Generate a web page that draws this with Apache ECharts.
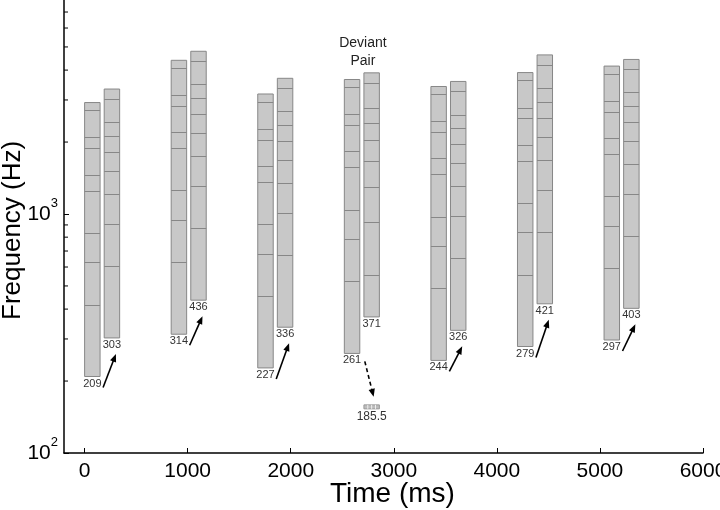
<!DOCTYPE html>
<html><head><meta charset="utf-8">
<script src="https://cdn.jsdelivr.net/npm/echarts@6/dist/echarts.min.js"></script>
<style>html,body{margin:0;padding:0;background:#fff}#c{width:720px;height:510px}</style>
</head><body><div id="c"></div>
<script>
// ---------------- data ----------------
const pairOnsets = [0, 840, 1680, 2520, 3360, 4200, 5040];   // ms
const toneDuration = 150;                                     // ms
const targetDelay = 190;                                      // ms after pair onset
const standardF0 = [209, 314, 227, 261, 244, 279, 297];       // Hz
const targetF0 = [303, 436, 336, 371, 326, 421, 403];         // Hz
const standardHarmonics = [1, 2, 3, 4, 6, 7, 9, 10, 13, 14];
const targetHarmonics = [1, 2, 3, 4, 5, 6, 7, 8, 10, 11];
const deviantPairIndex = 3;
const deviantMissingF0 = 185.5;                               // Hz
const deviantHarmonics = [2, 3, 5, 7, 9, 11, 13, 15, 19, 21];
const deviantMarkerBand = [153, 159];                         // Hz, symbol of missing F0
const xTickValues = [0, 1000, 2000, 3000, 4000, 5000, 6000];
const yMinorTickValues = [200, 300, 400, 500, 600, 700, 800, 900,
                          2000, 3000, 4000, 5000, 6000, 7000, 8000, 9000];
const xRange = [-200, 6000];
const yRange = [100, 10000];

// ---------------- build tones ----------------
const tones = [];
pairOnsets.forEach((t, i) => {
  tones.push({ x0: t, x1: t + toneDuration, label: String(standardF0[i]),
    comps: standardHarmonics.map(h => h * standardF0[i]) });
  const dev = i === deviantPairIndex;
  tones.push({ x0: t + targetDelay, x1: t + targetDelay + toneDuration, label: String(targetF0[i]),
    comps: dev ? deviantHarmonics.map(h => h * deviantMissingF0)
               : targetHarmonics.map(h => h * targetF0[i]) });
});

const SANS = '"Liberation Sans", Arial, sans-serif';
const BAR_FILL = '#c8c8c8', BAR_EDGE = '#878787';

function renderTone(params, api) {
  const t = tones[params.dataIndex];
  const top = api.coord([t.x0, t.comps[t.comps.length - 1]]);
  const bot = api.coord([t.x1, t.comps[0]]);
  const ch = [{ type: 'rect', shape: { x: top[0], y: top[1], width: bot[0] - top[0], height: bot[1] - top[1] },
    style: { fill: BAR_FILL, stroke: BAR_EDGE, lineWidth: 1 } }];
  for (let k = 1; k < t.comps.length - 1; k++) {
    const y = Math.round(api.coord([t.x0, t.comps[k]])[1]) + 0.5;
    ch.push({ type: 'line', shape: { x1: top[0], y1: y, x2: bot[0], y2: y }, style: { stroke: BAR_EDGE, lineWidth: 1 } });
  }
  ch.push({ type: 'text', style: { text: t.label, x: (top[0] + bot[0]) / 2, y: bot[1] + 1.5, align: 'center',
    verticalAlign: 'top', fontSize: 11, fontFamily: SANS, fill: '#333' } });
  if (params.dataIndex === deviantPairIndex * 2 + 1) {
    ch.push({ type: 'text', style: { text: 'Deviant\nPair', x: top[0] - 1, y: top[1] - 3, align: 'center',
      verticalAlign: 'bottom', fontSize: 14, lineHeight: 18, fontFamily: SANS, fill: '#222' } });
  }
  return { type: 'group', children: ch };
}

function arrowHead(tail, tip, size, w) {
  const dx = tip[0] - tail[0], dy = tip[1] - tail[1], L = Math.hypot(dx, dy);
  const ux = dx / L, uy = dy / L;
  const bx = tip[0] - ux * size, by = tip[1] - uy * size;
  return [[tip[0], tip[1]], [bx - uy * w, by + ux * w], [bx + uy * w, by - ux * w]];
}

function renderArrow(params, api) {
  const i = params.dataIndex;
  const s = tones[2 * i], g = tones[2 * i + 1];
  const sBot = api.coord([s.x1, s.comps[0]]);
  const ch = [];
  let tail, tip, dashed = false;
  if (i === deviantPairIndex) {
    const mTop = api.coord([g.x0, deviantMarkerBand[1]]);
    const mR = api.coord([g.x1, deviantMarkerBand[1]]);
    tail = [sBot[0] + 5, sBot[1] + 8];
    tip = [(mTop[0] + mR[0]) / 2 + 2, mTop[1] - 8];
    dashed = true;
  } else {
    const gBotL = api.coord([g.x0, g.comps[0]]);
    const gBotR = api.coord([g.x1, g.comps[0]]);
    tail = [sBot[0] + 3, sBot[1] + 11];
    tip = [(gBotL[0] + gBotR[0]) / 2 + 4, gBotL[1] + 16];
  }
  const head = arrowHead(tail, tip, 8, 3.2);
  const dx = tip[0] - tail[0], dy = tip[1] - tail[1], L = Math.hypot(dx, dy);
  const end = [tip[0] - dx / L * 7, tip[1] - dy / L * 7];
  ch.push({ type: 'line', shape: { x1: tail[0], y1: tail[1], x2: end[0], y2: end[1] },
    style: { stroke: '#000', lineWidth: 1.6, lineDash: dashed ? [4, 3] : null } });
  ch.push({ type: 'polygon', shape: { points: head }, style: { fill: '#000' } });
  return { type: 'group', children: ch };
}

function renderMarker(params, api) {
  const g = tones[deviantPairIndex * 2 + 1];
  const a = api.coord([g.x0, deviantMarkerBand[1]]);
  const b = api.coord([g.x1, deviantMarkerBand[0]]);
  const ch = [{ type: 'rect', shape: { x: a[0], y: a[1], width: b[0] - a[0], height: b[1] - a[1] },
    style: { fill: '#bdbdbd', stroke: '#9a9a9a', lineWidth: 1 } }];
  const n = 4;
  for (let k = 1; k < n; k++) {
    const x = a[0] + (b[0] - a[0]) * k / n;
    ch.push({ type: 'line', shape: { x1: x, y1: a[1], x2: x, y2: b[1] }, style: { stroke: '#f0f0f0', lineWidth: 1 } });
  }
  ch.push({ type: 'text', style: { text: String(deviantMissingF0), x: (a[0] + b[0]) / 2, y: b[1] + 2, align: 'center',
    verticalAlign: 'top', fontSize: 12, fontFamily: SANS, fill: '#333' } });
  return { type: 'group', children: ch };
}

function renderMinorTick(params, api) {
  const p = api.coord([xRange[0], yMinorTickValues[params.dataIndex]]);
  return { type: 'line', shape: { x1: p[0], y1: p[1], x2: p[0] + 4, y2: p[1] }, style: { stroke: '#000', lineWidth: 1 } };
}

const chart = echarts.init(document.getElementById('c'), null, { renderer: 'canvas' });
chart.setOption({
  animation: false,
  backgroundColor: '#fff',
  grid: { left: 64, right: 17, top: -25, bottom: 57, containLabel: false, outerBoundsMode: 'none' },
  xAxis: {
    type: 'value', min: xRange[0], max: xRange[1],
    splitLine: { show: false },
    axisLine: { onZero: false, lineStyle: { color: '#000', width: 1.5 } },
    axisTick: { inside: true, length: 5, customValues: xTickValues, lineStyle: { color: '#000' } },
    axisLabel: { customValues: xTickValues, formatter: v => String(v), margin: 8, fontSize: 21, fontFamily: SANS, color: '#000' }
  },
  yAxis: {
    type: 'log', logBase: 10, min: yRange[0], max: yRange[1],
    splitLine: { show: false },
    axisLine: { onZero: false, lineStyle: { color: '#000', width: 1.5 } },
    axisTick: { inside: true, length: 5, lineStyle: { color: '#000' } },
    axisLabel: {
      margin: 6, color: '#000',
      formatter: v => '{b|10}{s|' + Math.round(Math.log10(v)) + '}',
      rich: {
        b: { fontSize: 21, lineHeight: 34, fontFamily: SANS, color: '#000' },
        s: { fontSize: 13, lineHeight: 13, verticalAlign: 'top', fontFamily: SANS, color: '#000' }
      }
    }
  },
  graphic: [
    { type: 'text', left: 330, top: 480, style: { text: 'Time (ms)', fontSize: 28, fontFamily: SANS, fill: '#000' } },
    { type: 'text', rotation: Math.PI / 2, x: 0, y: 320, style: { text: 'Frequency (Hz)', fontSize: 26, fontFamily: SANS, fill: '#000' } }
  ],
  series: [
    { type: 'custom', name: 'tones', renderItem: renderTone, clip: false,
      data: tones.map(t => [t.x0, t.comps[0]]) },
    { type: 'custom', name: 'arrows', renderItem: renderArrow, clip: false,
      data: pairOnsets.map((t, i) => [t, standardF0[i]]) },
    { type: 'custom', name: 'missing', renderItem: renderMarker, clip: false,
      data: [[pairOnsets[deviantPairIndex] + targetDelay, deviantMissingF0]] },
    { type: 'custom', name: 'minorTicks', renderItem: renderMinorTick, clip: false,
      data: yMinorTickValues.map(v => [xRange[0], v]) }
  ]
});
</script></body></html>
